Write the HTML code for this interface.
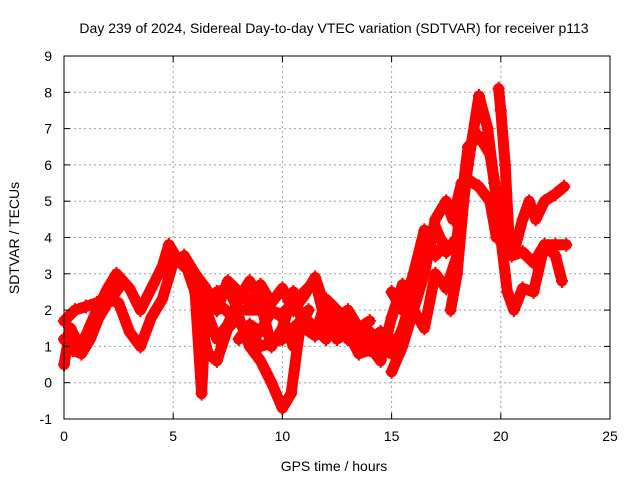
<!DOCTYPE html>
<html><head><meta charset="utf-8"><style>
body{margin:0;background:#fff}
svg{display:block;font-family:"Liberation Sans",sans-serif;font-size:14px}
</style></head><body>
<svg id="chart" width="640" height="480">
<rect width="640" height="480" fill="#fff"/>
<text x="334" y="33" text-anchor="middle">Day 239 of 2024, Sidereal Day-to-day VTEC variation (SDTVAR) for receiver p113</text>
<text x="334" y="471" text-anchor="middle">GPS time / hours</text>
<text transform="translate(19,238) rotate(-90)" text-anchor="middle">SDTVAR / TECUs</text>
<g id="grid"></g><g id="series"></g><g id="axes"></g>
</svg>
<script>
const xTicks=[0,5,10,15,20,25];
const yTicks=[-1,0,1,2,3,4,5,6,7,8,9];
const trackA_t=[0,0.3,0.7,1.0,1.5,2.0,2.4,3.0,3.5,4.0,4.5,4.8,5.2,5.6,6.0,6.3,6.6,7.0,7.5,8.0,8.5,9.0,9.5,10.0,10.4,10.8,11.2];
const trackA_v=[0.5,1.5,1.0,1.3,2.0,2.6,3.0,2.6,2.0,2.6,3.2,3.8,3.4,3.2,2.5,1.5,0.8,0.6,1.5,1.8,1.0,0.6,0.0,-0.7,-0.3,1.5,2.0];
const trackB_t=[0,0.5,1,1.5,2,2.5,3,3.5,4,4.5,5,5.5,6,6.5,7,7.5,8,9,10,11,11.5,12,13,13.5,14,14.5,15,15.5,16,16.5,17,17.5,18,18.5,19,19.5,20,20.5,21,21.5,22,22.5,23];
const trackB_v=[1.7,2.0,2.1,2.2,2.3,2.2,1.4,1.0,1.8,2.3,3.3,3.5,3.0,2.2,2.5,2.6,2.0,2.0,1.9,2.5,2.8,1.6,1.8,1.2,1.4,0.9,0.8,1.5,2.5,4.0,4.3,3.6,4.0,6.5,6.8,6.3,4.5,3.5,3.6,3.3,3.8,3.8,3.8];
const trackC_t=[0,0.4,0.8,1.2,1.6,2.0,2.5];
const trackC_v=[1.2,0.9,0.8,1.2,1.8,2.2,2.6];
const trackD_t=[17.7,18,18.3,18.5,19,19.4,19.7,20,20.3,20.6,21,21.5,22,22.5,22.8];
const trackD_v=[2.0,3.0,5.0,6.0,7.9,7.0,5.5,4.0,2.5,2.0,2.6,2.5,3.8,3.5,2.8];
const trackE_t=[15,15.5,16,16.5,17,17.5,17.8,18.2,18.5,19,19.5,19.8];
const trackE_v=[0.3,1.0,2.0,3.0,4.5,5.0,4.5,5.5,5.6,5.4,5.0,4.0];
const trackF_t=[19.9,20,20.2,20.4,20.6,21,21.3,21.6,22,22.5,22.9];
const trackF_v=[8.1,7.5,6.0,3.7,3.6,4.5,5.0,4.5,5.0,5.2,5.4];
const trackG_t=[6,6.3,6.5,7,7.5,8,8.5,9,9.5,10,10.5,11,11.5,12,12.5,13,13.5,14,14.5,15];
const trackG_v=[2.5,-0.3,2.0,1.2,1.6,2.3,2.8,2.2,1.0,1.5,2.5,1.5,1.3,2.3,2.0,1.2,1.0,1.2,1.4,1.2];
const trackH_t=[7,8,9,10,11,12,12.5,13,14,14.5,15,15.5,16,16.5,17,17.5,18];
const trackH_v=[2.2,1.7,1.0,1.2,1.8,1.2,1.6,1.5,1.0,0.6,1.8,2.7,2.0,1.5,3.0,2.6,3.5];
const trackI_t=[5,5.5,6,6.5,7,7.5,8,8.5,9,9.5,10,10.5,11,11.5,12,12.5,13,13.5,14];
const trackI_v=[3.5,3.2,3.0,2.6,2.0,2.8,2.5,2.2,2.7,2.2,2.6,2.0,2.4,2.9,2.0,1.8,2.0,1.5,1.7];
const trackJ_t=[8,8.5,9,9.5,10,10.5,11,11.5,12,12.5,13,13.5,14];
const trackJ_v=[1.2,1.6,1.4,2.0,1.8,1.0,1.7,1.4,1.7,1.2,1.4,0.8,0.9];
const trackK_t=[15,15.5,16,16.5,17,17.5,18];
const trackK_v=[2.5,2.0,3.0,4.2,3.5,3.8,3.6];
const tracks=[[trackA_t,trackA_v],[trackB_t,trackB_v],[trackC_t,trackC_v],[trackD_t,trackD_v],[trackE_t,trackE_v],[trackF_t,trackF_v],[trackG_t,trackG_v],[trackH_t,trackH_v],[trackI_t,trackI_v],[trackJ_t,trackJ_v],[trackK_t,trackK_v]];
const X0=64,X1=610,Y0=419,Y1=56;
const xs=v=>X0+(v-0)/(25-0)*(X1-X0);
const ys=v=>Y0-(v+1)/(9+1)*(Y0-Y1);
const NS="http://www.w3.org/2000/svg";
function mk(tag,attrs,parent){const e=document.createElementNS(NS,tag);for(const k in attrs)e.setAttribute(k,attrs[k]);parent.appendChild(e);return e;}
const grid=document.getElementById('grid'),axes=document.getElementById('axes'),ser=document.getElementById('series');
xTicks.forEach(t=>{
 if(t>0&&t<25){const g=mk('line',{x1:xs(t),x2:xs(t),y1:Y1,y2:Y0,stroke:'#a0a0a0','stroke-dasharray':'2,3'},grid);
 
 }
 const l=mk('text',{x:xs(t),y:Y0+22,'text-anchor':'middle'},axes);l.textContent=t;
 
 
 mk('line',{x1:xs(t),x2:xs(t),y1:Y0,y2:Y0-6,stroke:'#000'},axes);
 mk('line',{x1:xs(t),x2:xs(t),y1:Y1,y2:Y1+6,stroke:'#000'},axes);
});
yTicks.forEach(t=>{
 if(t>-1&&t<9){const g=mk('line',{x1:X0,x2:X1,y1:ys(t),y2:ys(t),stroke:'#a0a0a0','stroke-dasharray':'2,3'},grid);
 
 }
 const l=mk('text',{x:X0-12,y:ys(t)+5,'text-anchor':'end'},axes);l.textContent=t;
 
 
 mk('line',{x1:X0,x2:X0+6,y1:ys(t),y2:ys(t),stroke:'#000'},axes);
 mk('line',{x1:X1,x2:X1-6,y1:ys(t),y2:ys(t),stroke:'#000'},axes);
});
const frame=mk('rect',{x:X0,y:Y1,width:X1-X0,height:Y0-Y1,fill:'none',stroke:'#000'},axes);


tracks.forEach(([t,v],i)=>{
 const pts=t.map((tt,j)=>xs(tt)+','+ys(v[j])).join(' ');
 const pl=mk('polyline',{points:pts,fill:'none',stroke:'#f00','stroke-width':11,'stroke-linejoin':'round','stroke-linecap':'round'},ser);
 
 
 t.forEach((tt,j)=>{const x=xs(tt),y=ys(v[j]);
  const p=mk('path',{d:`M${x-6},${y}H${x+6}M${x},${y-7}V${y+7}`,stroke:'#f00','stroke-width':2},ser);
  
  
 });
});
</script>
</body></html>
